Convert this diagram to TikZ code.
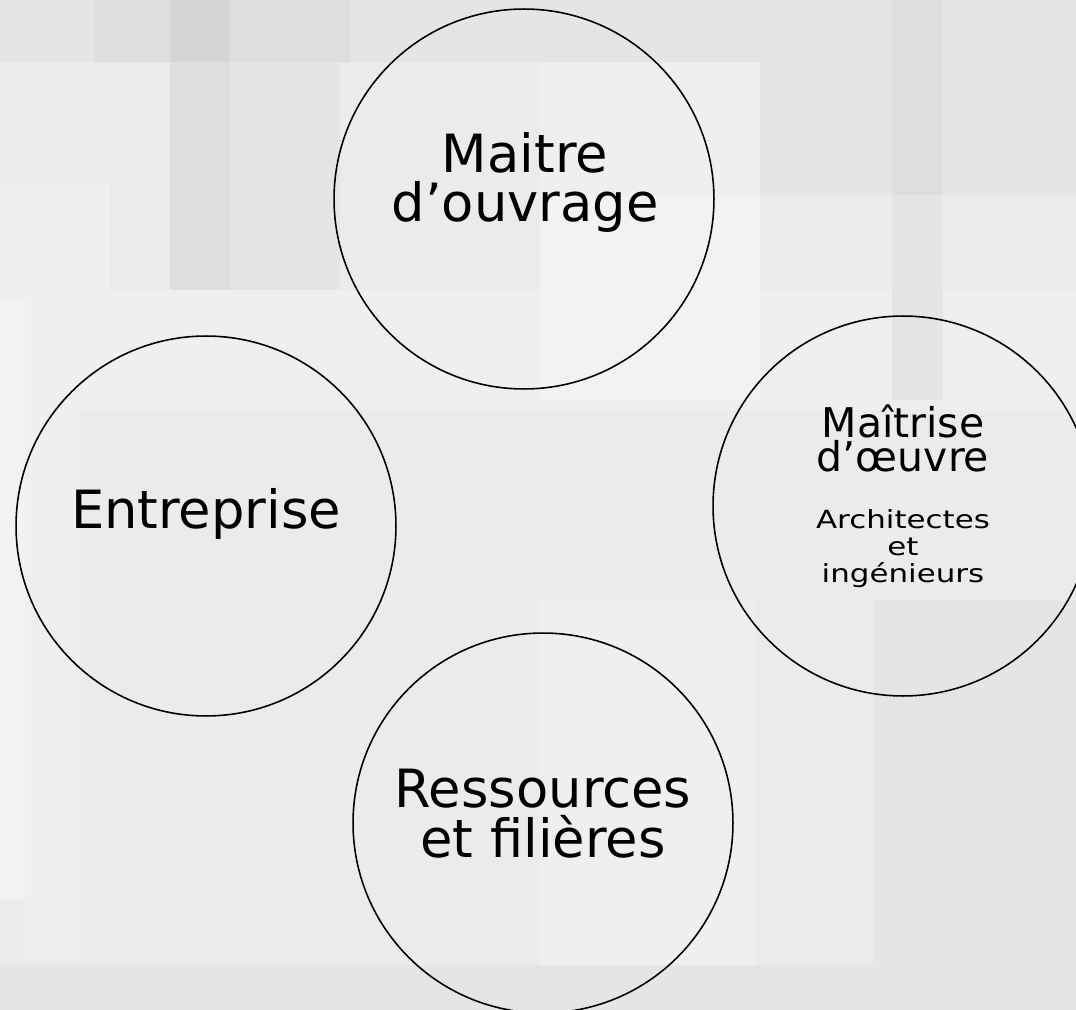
\documentclass[tikz,border=0pt]{standalone}
\usepackage{fontspec}
\setmainfont{DejaVu Sans}
\usepackage{tikz}

\definecolor{bgbase}{HTML}{EBEBEB}
\definecolor{bglight}{HTML}{EFEFEF}
\definecolor{bglighter}{HTML}{F2F2F2}
\definecolor{bgdark}{HTML}{E5E5E5}
\definecolor{bgdarker}{HTML}{DEDEDE}
\definecolor{bgdarkest}{HTML}{D6D4D6}

\newcommand{\wide}[1]{\scalebox{1.24}[1]{#1}}

\begin{document}
\begin{tikzpicture}[x=0.02cm,y=-0.02cm]
\useasboundingbox (0,0) rectangle (1076,1010);
\clip (0,0) rectangle (1076,1010);
\tikzstyle{bubble} = [circle, draw, line width=0.9pt, minimum size=7.6cm, inner sep=0pt]
\tikzstyle{bigtext} = [align=center, inner sep=0pt, font=\fontsize{30}{28.2}\selectfont]
\tikzstyle{midtext} = [align=center, inner sep=0pt, font=\fontsize{23.3}{19.8}\selectfont]
\tikzstyle{smalltext} = [align=center, inner sep=0pt, font=\fontsize{14.2}{15.3}\selectfont]
% background blocks
\fill[bgbase] (0,0) rectangle (1076,1010);
\fill[bgdark] (0,0) rectangle (1076,62);
\fill[bgdarker] (95,0) rectangle (350,62);
\fill[bgdarkest] (170,0) rectangle (230,62);
\fill[bgdarker] (170,62) rectangle (230,290);
\fill[bgdark] (230,62) rectangle (340,290);
\fill[bglight] (0,185) rectangle (110,300);
\fill[bglight] (80,290) rectangle (1076,410);
\fill[bglight] (25,300) rectangle (80,960);
\fill[bglighter] (0,300) rectangle (25,900);
\fill[bglight] (540,62) rectangle (760,195);
\fill[bglighter] (540,195) rectangle (760,400);
\fill[bglight] (540,600) rectangle (755,965);
\fill[bgdark] (760,62) rectangle (1076,195);
\fill[bgdarker] (892,0) rectangle (943,195);
\fill[bgdark] (892,195) rectangle (943,400);
\fill[bgdark] (873,600) rectangle (1076,1010);
\fill[bgdark] (0,965) rectangle (1076,1010);
% circles
\node[bubble] (MO) at (524,199) {};
\node[bubble] (ENT) at (206,526) {};
\node[bubble] (MOE) at (903,506) {};
\node[bubble] (RES) at (543,823) {};
% texts
\node[bigtext, anchor=base] (MOtext) at (525,222) {Maitre\\d’ouvrage};
\node[bigtext, anchor=base] (ENTtext) at (206,528) {Entreprise};
\node[midtext, anchor=base] (MOEtext) at (903,472) {Maîtrise\\d’œuvre};
\node[smalltext, anchor=base] (MOEsub) at (903,582) {\wide{Architectes}\\\wide{et}\\\wide{ingénieurs}};
\node[bigtext, anchor=base] (REStext) at (543,857) {Ressources\\et filières};
\end{tikzpicture}
\end{document}
